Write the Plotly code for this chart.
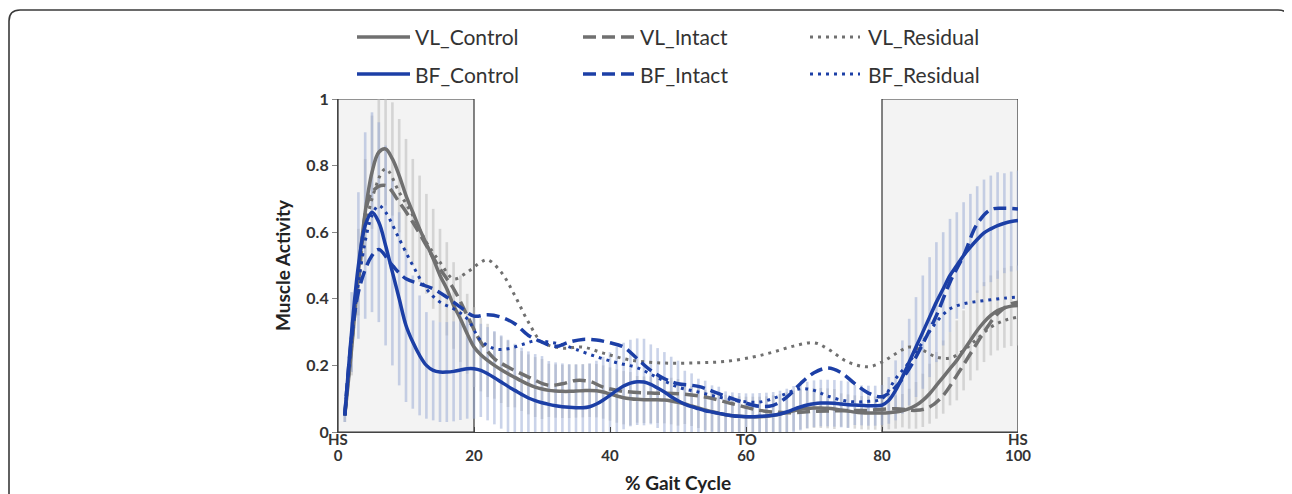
import plotly.graph_objects as go

# ---------------- data ----------------
x_full = list(range(1, 101))

vl_control = [0.05, 0.25, 0.48, 0.66, 0.78, 0.84, 0.85, 0.82, 0.77, 0.71,
              0.66, 0.61, 0.565, 0.52, 0.47, 0.43, 0.38, 0.34, 0.295, 0.255,
              0.232, 0.215, 0.2, 0.187, 0.175, 0.164, 0.153, 0.143, 0.135, 0.129,
              0.125, 0.123, 0.122, 0.122, 0.123, 0.124, 0.125, 0.124, 0.12, 0.114,
              0.108, 0.103, 0.1, 0.098, 0.097, 0.097, 0.097, 0.096, 0.093, 0.089,
              0.084, 0.078, 0.072, 0.066, 0.061, 0.056, 0.052, 0.049, 0.047, 0.046,
              0.046, 0.046, 0.047, 0.05, 0.054, 0.059, 0.064, 0.068, 0.071, 0.072,
              0.072, 0.071, 0.069, 0.066, 0.063, 0.06, 0.058, 0.057, 0.057, 0.057,
              0.058, 0.06, 0.064, 0.07, 0.08, 0.095, 0.115, 0.14, 0.165, 0.19,
              0.215, 0.245, 0.275, 0.305, 0.33, 0.35, 0.365, 0.373, 0.378, 0.38]

bf_control = [0.05, 0.3, 0.5, 0.62, 0.66, 0.63, 0.56, 0.48, 0.4, 0.32,
              0.27, 0.23, 0.2, 0.185, 0.18, 0.18, 0.182, 0.186, 0.19, 0.19,
              0.185, 0.175, 0.163, 0.15, 0.137, 0.125, 0.113, 0.102, 0.094, 0.088,
              0.083, 0.079, 0.076, 0.074, 0.073, 0.073, 0.076, 0.084, 0.096, 0.11,
              0.125, 0.138, 0.147, 0.151, 0.15, 0.143, 0.132, 0.12, 0.106, 0.094,
              0.084, 0.076, 0.07, 0.064, 0.06, 0.056, 0.052, 0.049, 0.047, 0.046,
              0.046, 0.047, 0.048, 0.05, 0.054, 0.06, 0.068, 0.075, 0.081, 0.085,
              0.087, 0.087, 0.086, 0.084, 0.082, 0.081, 0.08, 0.079, 0.079, 0.081,
              0.095, 0.125, 0.165, 0.21, 0.255, 0.3, 0.345, 0.39, 0.43, 0.47,
              0.5, 0.53, 0.555, 0.578, 0.598, 0.61, 0.62, 0.627, 0.632, 0.635]

vl_sd = [0.02, 0.08, 0.13, 0.16, 0.17, 0.17, 0.17, 0.17, 0.17, 0.17,
         0.16, 0.16, 0.15, 0.15, 0.14, 0.14, 0.13, 0.13, 0.12, 0.12,
         0.11, 0.11, 0.1, 0.1, 0.1, 0.09, 0.09, 0.09, 0.09, 0.09,
         0.08, 0.08, 0.08, 0.08, 0.08, 0.08, 0.08, 0.08, 0.08, 0.08,
         0.08, 0.08, 0.08, 0.07, 0.07, 0.07, 0.07, 0.07, 0.07, 0.07,
         0.06, 0.06, 0.06, 0.06, 0.06, 0.06, 0.06, 0.06, 0.06, 0.06,
         0.06, 0.06, 0.06, 0.06, 0.06, 0.06, 0.06, 0.06, 0.06, 0.06,
         0.06, 0.06, 0.06, 0.05, 0.05, 0.05, 0.05, 0.05, 0.05, 0.05,
         0.05, 0.05, 0.05, 0.06, 0.07, 0.08, 0.09, 0.1, 0.11, 0.11,
         0.12, 0.12, 0.12, 0.12, 0.12, 0.12, 0.12, 0.12, 0.12, 0.12]

bf_sd = [0.02, 0.12, 0.22, 0.28, 0.3, 0.3, 0.3, 0.28, 0.26, 0.23,
         0.2, 0.18, 0.16, 0.15, 0.15, 0.15, 0.15, 0.15, 0.15, 0.15,
         0.14, 0.14, 0.14, 0.14, 0.14, 0.14, 0.14, 0.14, 0.14, 0.14,
         0.13, 0.13, 0.13, 0.13, 0.13, 0.13, 0.13, 0.13, 0.13, 0.13,
         0.13, 0.13, 0.13, 0.13, 0.13, 0.12, 0.12, 0.12, 0.12, 0.12,
         0.1, 0.1, 0.09, 0.09, 0.08, 0.08, 0.07, 0.07, 0.07, 0.07,
         0.07, 0.07, 0.07, 0.07, 0.07, 0.07, 0.07, 0.07, 0.07, 0.07,
         0.07, 0.07, 0.07, 0.07, 0.07, 0.06, 0.06, 0.06, 0.06, 0.06,
         0.07, 0.09, 0.11, 0.13, 0.15, 0.17, 0.18, 0.18, 0.17, 0.17,
         0.16, 0.16, 0.16, 0.16, 0.16, 0.16, 0.16, 0.15, 0.15, 0.15]

vl_intact_x = [1, 3, 5, 7, 9, 11, 13, 15, 17, 19, 21, 23, 25, 28, 31, 33, 35, 37, 39, 42,
               46, 50, 54, 58, 62, 66, 70, 74, 78, 82, 85, 87, 89, 91, 93, 95, 97, 99, 100]
vl_intact_y = [0.05, 0.45, 0.72, 0.74, 0.69, 0.63, 0.56, 0.49, 0.43, 0.35, 0.27, 0.22, 0.195,
               0.165, 0.14, 0.145, 0.155, 0.152, 0.135, 0.122, 0.117, 0.115, 0.105, 0.085,
               0.065, 0.058, 0.062, 0.064, 0.065, 0.07, 0.065, 0.075, 0.11, 0.17, 0.235,
               0.3, 0.355, 0.385, 0.39]

vl_resid_x = [1, 3, 5, 7, 9, 11, 13, 15, 17, 19, 21, 22, 24, 26, 28, 30, 33, 36, 39, 43,
              48, 53, 57, 61, 64, 67, 70, 72, 75, 78, 80, 82, 84, 86, 88, 90, 92, 94, 96, 98, 100]
vl_resid_y = [0.05, 0.45, 0.7, 0.79, 0.72, 0.65, 0.57, 0.51, 0.46, 0.48, 0.51, 0.517, 0.48,
              0.41, 0.33, 0.27, 0.252, 0.255, 0.237, 0.216, 0.207, 0.208, 0.212, 0.225,
              0.24, 0.258, 0.268, 0.25, 0.21, 0.196, 0.21, 0.235, 0.255, 0.245, 0.225,
              0.222, 0.245, 0.28, 0.315, 0.335, 0.345]

bf_intact_x = [1, 3, 5, 6, 8, 10, 12, 14, 16, 18, 20, 22, 24, 26, 28, 30, 32, 34, 36, 38,
               40, 42, 44, 46, 48, 50, 53, 56, 59, 62, 64, 66, 68, 70, 72, 74, 76, 78, 80,
               82, 84, 86, 88, 90, 92, 94, 96, 98, 100]
bf_intact_y = [0.05, 0.42, 0.53, 0.548, 0.5, 0.46, 0.445, 0.43, 0.405, 0.375, 0.348, 0.352,
               0.345, 0.325, 0.29, 0.27, 0.257, 0.27, 0.278, 0.276, 0.268, 0.255, 0.22,
               0.185, 0.16, 0.145, 0.137, 0.115, 0.093, 0.077, 0.08, 0.105, 0.145, 0.178,
               0.192, 0.178, 0.145, 0.117, 0.106, 0.135, 0.19, 0.265, 0.35, 0.45, 0.53,
               0.625, 0.668, 0.672, 0.67]

bf_resid_x = [1, 3, 5, 6, 7, 9, 11, 13, 15, 17, 19, 21, 23, 25, 27, 29, 31, 33, 35, 38,
              41, 44, 47, 50, 53, 56, 59, 62, 65, 68, 70, 72, 75, 78, 80, 82, 84, 86, 88,
              90, 92, 94, 96, 98, 100]
bf_resid_y = [0.05, 0.45, 0.65, 0.68, 0.66, 0.58, 0.5, 0.43, 0.39, 0.37, 0.34, 0.275, 0.25,
              0.25, 0.262, 0.274, 0.27, 0.262, 0.248, 0.226, 0.208, 0.193, 0.163, 0.135,
              0.12, 0.105, 0.093, 0.09, 0.108, 0.13, 0.125, 0.108, 0.092, 0.092, 0.1,
              0.16, 0.21, 0.27, 0.33, 0.37, 0.385, 0.392, 0.397, 0.402, 0.405]

x_ticks = [0, 20, 40, 60, 80, 100]
y_ticks = [0, 0.2, 0.4, 0.6, 0.8, 1]
y_tick_text = ["0", "0.2", "0.4", "0.6", "0.8", "1"]
event_x = [0, 60, 100]
event_labels = ["HS", "TO", "HS"]
shaded_spans = [(0, 20), (80, 100)]
legend_names = [["VL_Control", "VL_Intact", "VL_Residual"],
                ["BF_Control", "BF_Intact", "BF_Residual"]]

# ---------------- styles ----------------
GRAY = "#707070"
BLUE = "#1c3fa6"
FONT = "Lato"
LW = 3.5
DASHES = ["solid", "13px,6px", "3px,5px"]
WIDTHS = [LW, LW, 3]
OFF = 8                      # page body margin of the viewer
W, H = 1292 - OFF, 494 - OFF
ML, MR, MT, MB = 338 - OFF, 274, 99 - OFF, 62
PW, PH = W - ML - MR, H - MT - MB


def px_to_paper(px, py):
    """screen pixel (in the 1292x494 window) -> paper coordinates"""
    return (px - OFF - ML) / PW, (H - MB - (py - OFF)) / PH


fig = go.Figure()

# error bars (drawn first, underneath the curves)
fig.add_trace(go.Scatter(x=x_full, y=vl_control, mode="markers",
                         marker=dict(size=1, color="rgba(0,0,0,0)"),
                         error_y=dict(type="data", array=vl_sd, visible=True,
                                      color="rgba(185,185,185,0.55)", thickness=2.6, width=0),
                         showlegend=False, hoverinfo="skip"))
fig.add_trace(go.Scatter(x=x_full, y=bf_control, mode="markers",
                         marker=dict(size=1, color="rgba(0,0,0,0)"),
                         error_y=dict(type="data", array=bf_sd, visible=True,
                                      color="rgba(150,168,212,0.5)", thickness=2.6, width=0),
                         showlegend=False, hoverinfo="skip"))


def line_trace(x, y, name, color, idx):
    return go.Scatter(x=x, y=y, name=name, mode="lines",
                      line=dict(color=color, width=WIDTHS[idx], dash=DASHES[idx],
                                shape="spline", smoothing=1.0),
                      showlegend=False, hoverinfo="skip")


fig.add_trace(line_trace(vl_resid_x, vl_resid_y, "VL_Residual", GRAY, 2))
fig.add_trace(line_trace(vl_intact_x, vl_intact_y, "VL_Intact", GRAY, 1))
fig.add_trace(line_trace(x_full, vl_control, "VL_Control", GRAY, 0))
fig.add_trace(line_trace(bf_resid_x, bf_resid_y, "BF_Residual", BLUE, 2))
fig.add_trace(line_trace(bf_intact_x, bf_intact_y, "BF_Intact", BLUE, 1))
fig.add_trace(line_trace(x_full, bf_control, "BF_Control", BLUE, 0))

shapes = []
for x0, x1 in shaded_spans:
    shapes.append(dict(type="rect", xref="x", yref="y", x0=x0, x1=x1, y0=0, y1=1,
                       fillcolor="#f3f3f3", line=dict(color="#333333", width=1.2), layer="below"))

# outer rounded frame of the figure panel
L, T = px_to_paper(9, 10)
R, B = px_to_paper(1289, 520)
dx, dy = 11 / PW, 11 / PH
frame_path = (f"M{L},{B} L{L},{T-dy} Q{L},{T} {L+dx},{T} "
              f"L{R-dx},{T} Q{R},{T} {R},{T-dy} L{R},{B}")
shapes.append(dict(type="path", xref="paper", yref="paper", path=frame_path,
                   line=dict(color="#3a3a3a", width=1.6), layer="above"))

annotations = []
for ex, lab in zip(event_x, event_labels):
    annotations.append(dict(x=ex, y=0, xref="x", yref="paper", text=f"<b>{lab}</b>",
                            showarrow=False, yanchor="top", xanchor="center", yshift=4,
                            font=dict(family=FONT, size=15, color="#333333")))

# legend (two rows x three columns), drawn as line samples + text
row_py = [37, 74]
col_px = [(357, 410, 413), (583, 635, 638), (810, 860, 866)]
colors = [GRAY, BLUE]
for r, names in enumerate(legend_names):
    for c, name in enumerate(names):
        x0p, x1p, tx = col_px[c]
        xa, ya = px_to_paper(x0p, row_py[r])
        xb, _ = px_to_paper(x1p, row_py[r])
        xt, _ = px_to_paper(tx, row_py[r])
        shapes.append(dict(type="line", xref="paper", yref="paper", x0=xa, x1=xb, y0=ya, y1=ya,
                           line=dict(color=colors[r], width=WIDTHS[c], dash=DASHES[c])))
        annotations.append(dict(x=xt, y=ya, xref="paper", yref="paper", text=name,
                                showarrow=False, xanchor="left", yanchor="middle",
                                font=dict(family=FONT, size=21, color="#333333")))

fig.update_layout(
    width=W, height=H,
    margin=dict(l=ML, r=MR, t=MT, b=MB, autoexpand=False),
    paper_bgcolor="white", plot_bgcolor="white",
    font=dict(family=FONT, color="#333333"),
    showlegend=False,
    shapes=shapes, annotations=annotations,
    xaxis=dict(range=[0, 100], tickvals=x_ticks, ticktext=[f"<b>{v}</b>" for v in x_ticks],
               showgrid=False, zeroline=False, showline=True, linecolor="#444444", linewidth=1.2,
               ticks="inside", ticklen=5, tickcolor="#444444", ticklabelstandoff=10,
               tickfont=dict(family=FONT, size=15, color="#333333"),
               title=dict(text="<b>% Gait Cycle</b>", standoff=13,
                          font=dict(family=FONT, size=19, color="#222222"))),
    yaxis=dict(range=[0, 1], tickvals=y_ticks, ticktext=[f"<b>{t}</b>" for t in y_tick_text],
               showgrid=False, zeroline=False, showline=True, linecolor="#444444", linewidth=1.2,
               ticks="outside", ticklen=5, tickcolor="#888888",
               tickfont=dict(family=FONT, size=16, color="#333333"),
               title=dict(text="<b>Muscle Activity</b>", standoff=10,
                          font=dict(family=FONT, size=19, color="#222222"))),
)

fig.write_html("out.html")
